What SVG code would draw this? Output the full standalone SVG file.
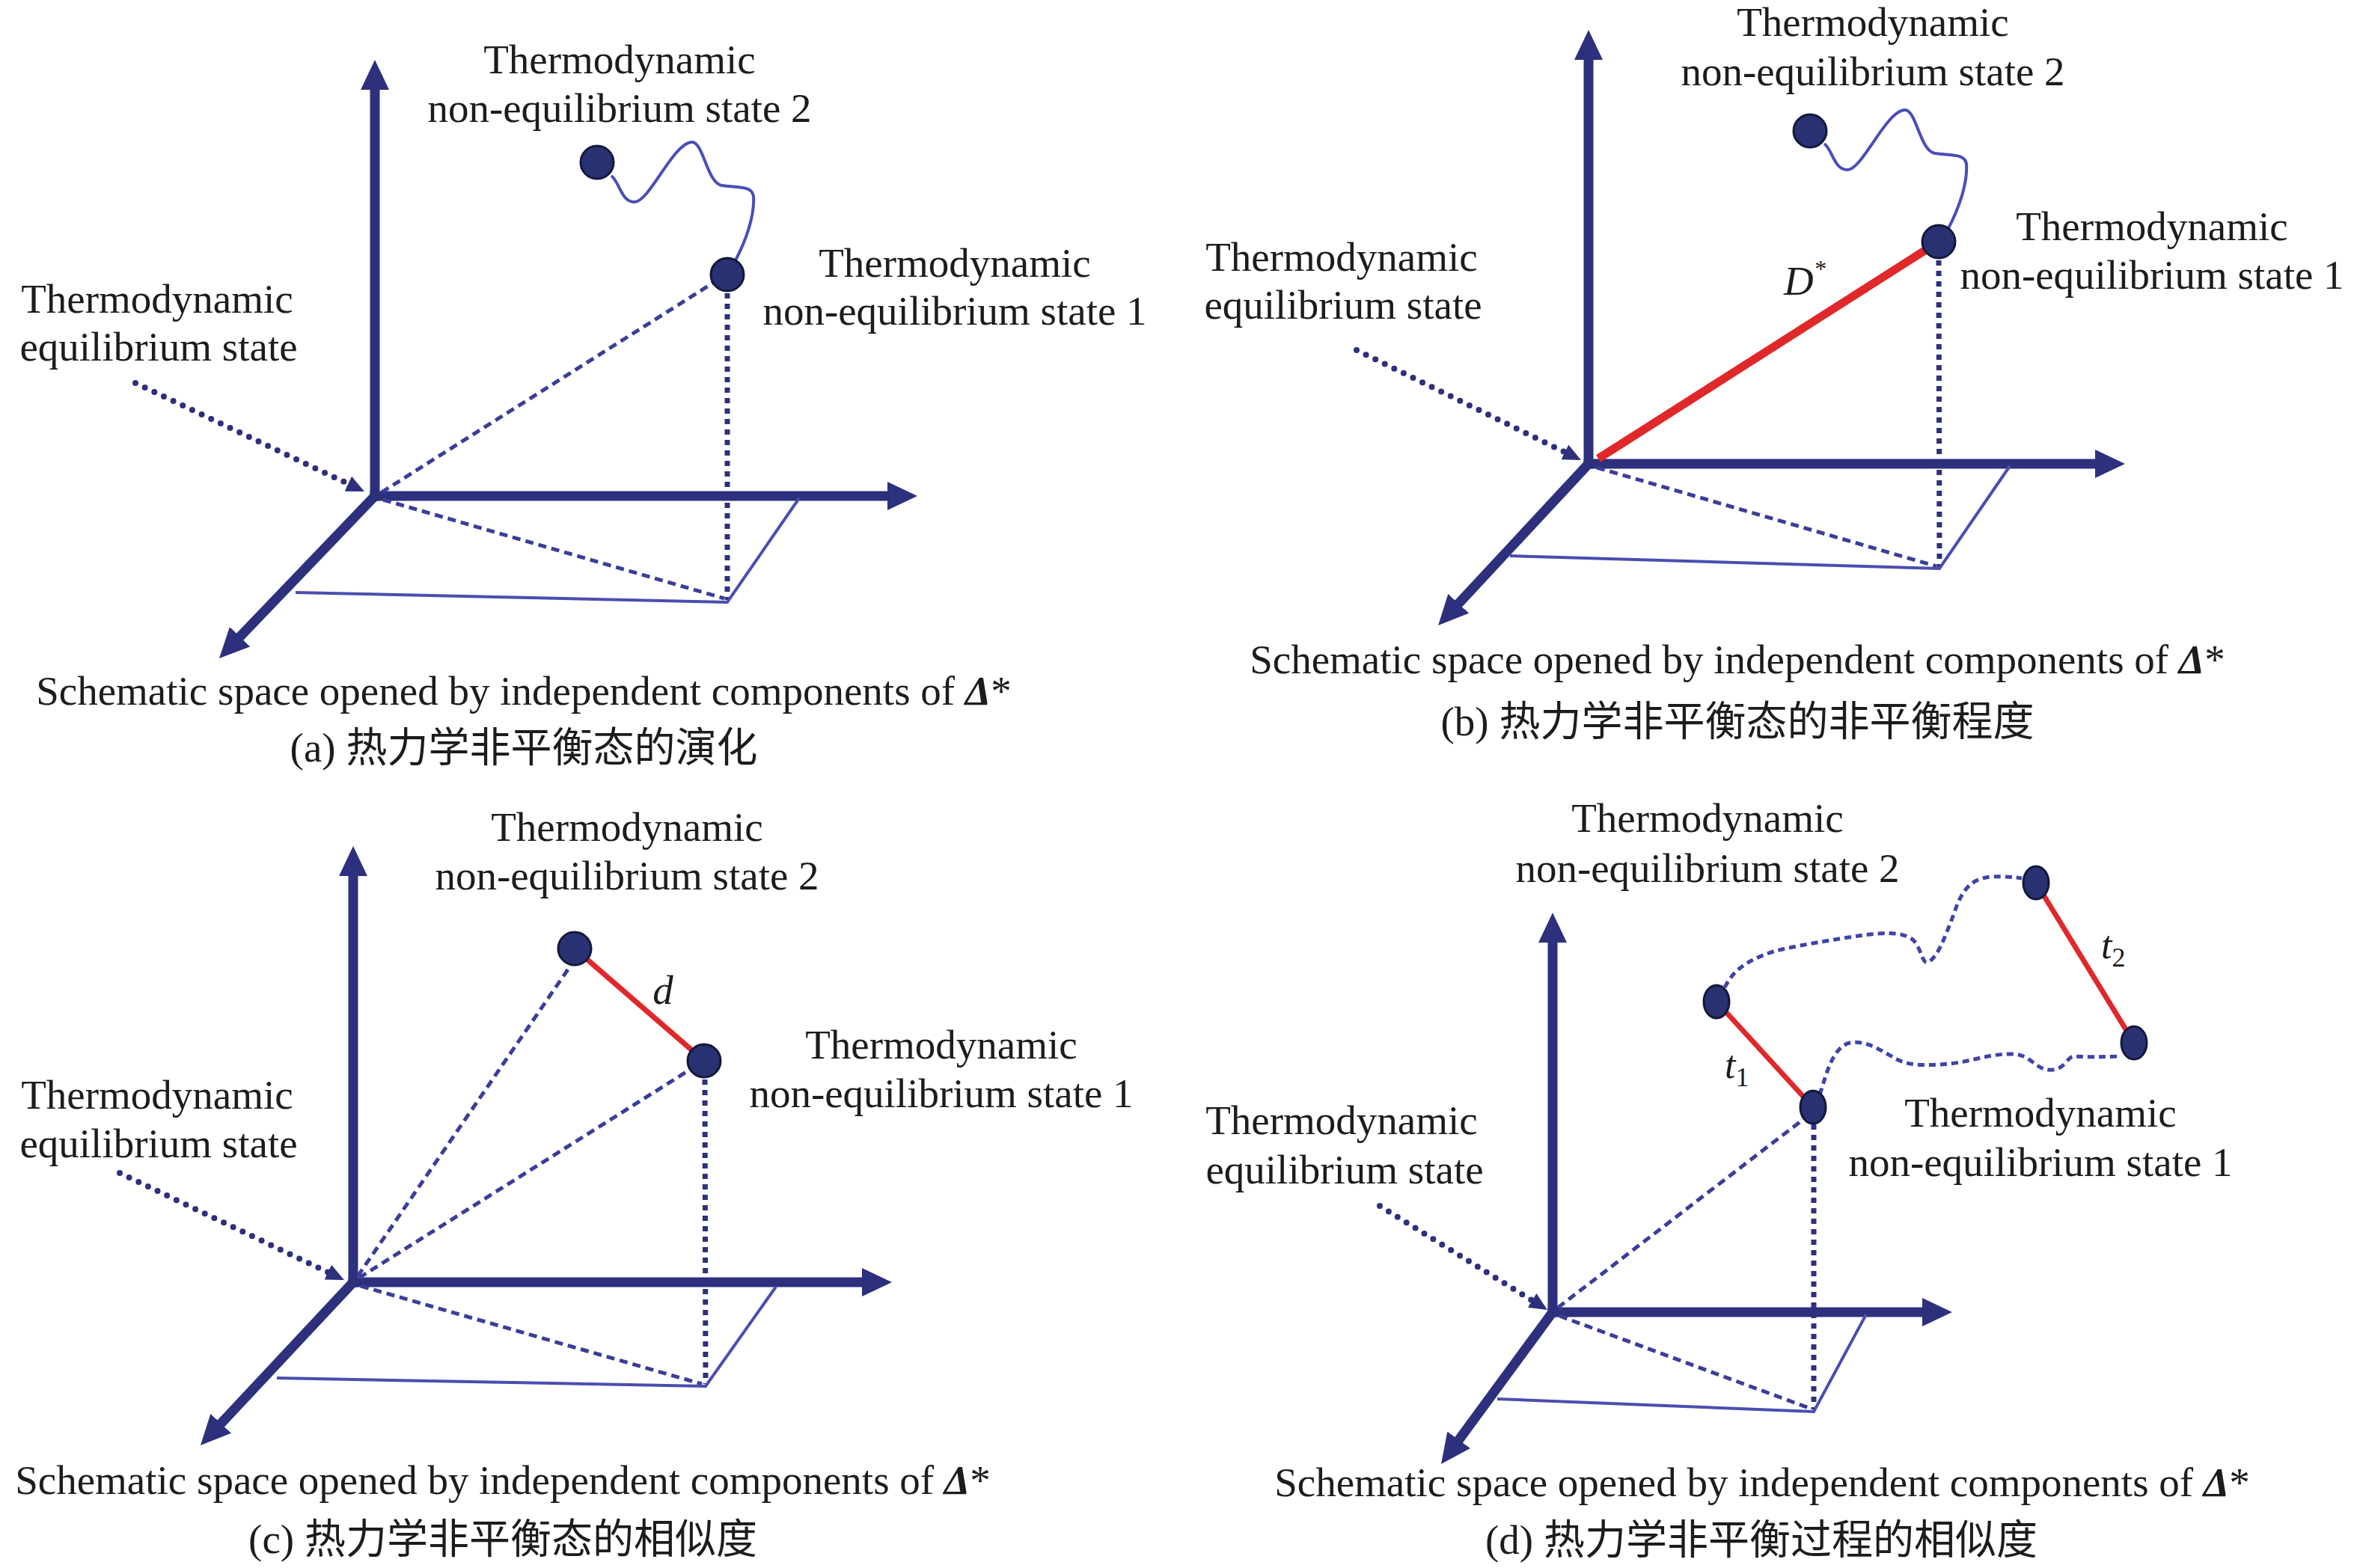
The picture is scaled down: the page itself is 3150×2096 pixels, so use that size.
<svg xmlns="http://www.w3.org/2000/svg" width="3150" height="2096" viewBox="0 0 3150 2096">
<defs>
<style>
.axis{stroke:#2d307c;stroke-width:13;fill:none;marker-end:url(#ah)}
.axs{stroke-linecap:square}
.thin{stroke:#4a4eb0;stroke-width:4;fill:none}
.dash{stroke:#3a3e98;stroke-width:5;stroke-dasharray:11 7;fill:none}
.vdot{stroke:#2d307c;stroke-width:7;stroke-dasharray:7 7;fill:none}
.pdot{stroke:#2d307c;stroke-width:8;stroke-dasharray:0 14;stroke-linecap:round;fill:none;marker-end:url(#sah)}
.wave{stroke:#4a4eb8;stroke-width:4;fill:none}
.dwave{stroke:#3f44a8;stroke-width:5;stroke-dasharray:9 6;fill:none}
.red{stroke:#e0282a;stroke-width:7;fill:none}
.pt{fill:#283272;stroke:#14183a;stroke-width:3}
.t{font-family:"Liberation Serif","Noto Sans CJK SC",serif;font-size:55px;fill:#1c1c1c;text-anchor:middle}
.it{font-family:"Liberation Serif",serif;font-style:italic;fill:#1c1c1c}
</style>
<marker id="ah" markerUnits="userSpaceOnUse" markerWidth="44" markerHeight="40" refX="6" refY="19" orient="auto">
<path d="M0,0 L40,19 L0,38 Z" fill="#2d307c"/>
</marker>
<marker id="sah" markerUnits="userSpaceOnUse" markerWidth="28" markerHeight="26" refX="4" refY="11" orient="auto">
<path d="M0,0 L24,11 L0,22 Z" fill="#2d307c"/>
</marker>
<path id="wv" d="M817,235 C828,243 830,270 848,270 C868,270 900,190 925,190 C940,190 945,245 965,248 C985,251 1005,248 1007,262 C1009,290 995,325 983,348"/>
</defs>
<rect width="3150" height="2096" fill="#ffffff"/>

<!-- ===== Panel (a) ===== -->
<g id="panel-a">
<g id="a-axes">
<line class="axis axs" x1="501" y1="663" x2="501" y2="114"/>
<line class="axis axs" x1="501" y1="663" x2="1192" y2="663"/>
<line class="axis" x1="501" y1="663" x2="316.5" y2="855.5"/>
</g>
<g id="a-connectors">
<line class="dash" x1="510" y1="658" x2="958" y2="375"/>
<line class="dash" x1="512" y1="668" x2="968" y2="800"/>
<line class="vdot" x1="972" y1="392" x2="972" y2="802"/>
<polyline class="thin" points="395,792 972,805 1068,666"/>
<line class="pdot" x1="181" y1="512" x2="468.9" y2="648.4"/>
<use href="#wv" class="wave"/>
</g>
<g id="a-state2">
<circle class="pt" cx="798" cy="217" r="22"/>
<text class="t" x="828" y="98">Thermodynamic</text>
<text class="t" x="828" y="163">non-equilibrium state 2</text>
</g>
<g id="a-state1">
<circle class="pt" cx="972" cy="367" r="22"/>
<text class="t" x="1276" y="370">Thermodynamic</text>
<text class="t" x="1276" y="434">non-equilibrium state 1</text>
</g>
<g id="a-eq">
<text class="t" x="210" y="418">Thermodynamic</text>
<text class="t" x="212" y="482">equilibrium state</text>
</g>
<g id="a-caption">
<text class="t" x="700" y="942">Schematic space opened by independent components of <tspan font-style="italic" font-weight="bold">Δ</tspan>*</text>
<text class="t" x="700" y="1018">(a) 热力学非平衡态的演化</text>
</g>
</g>

<!-- ===== Panel (b) ===== -->
<g id="panel-b">
<g id="b-axes">
<line class="axis axs" x1="2123" y1="620" x2="2123" y2="74"/>
<line class="axis axs" x1="2123" y1="620" x2="2806" y2="620"/>
<line class="axis" x1="2123" y1="620" x2="1945.2" y2="811.2"/>
</g>
<g id="b-connectors">
<line class="dash" x1="2134" y1="625" x2="2588" y2="757"/>
<line class="vdot" x1="2591" y1="348" x2="2592" y2="758"/>
<polyline class="thin" points="2018,743 2592,760 2686,623"/>
<line class="pdot" x1="1813" y1="468" x2="2095" y2="606.2"/>
<use href="#wv" class="wave" transform="translate(1621,-43)"/>
<line class="red" style="stroke-width:11" x1="2136" y1="613" x2="2580" y2="330"/>
<text class="it" x="2384" y="394" font-size="55">D<tspan font-size="32" dy="-24">*</tspan></text>
</g>
<g id="b-state2">
<circle class="pt" cx="2419" cy="175" r="22"/>
<text class="t" x="2503" y="48">Thermodynamic</text>
<text class="t" x="2503" y="114">non-equilibrium state 2</text>
</g>
<g id="b-state1">
<circle class="pt" cx="2591" cy="323" r="22"/>
<text class="t" x="2876" y="321">Thermodynamic</text>
<text class="t" x="2876" y="386">non-equilibrium state 1</text>
</g>
<g id="b-eq">
<text class="t" x="1793" y="362">Thermodynamic</text>
<text class="t" x="1795" y="426">equilibrium state</text>
</g>
<g id="b-caption">
<text class="t" x="2322" y="900">Schematic space opened by independent components of <tspan font-style="italic" font-weight="bold">Δ</tspan>*</text>
<text class="t" x="2322" y="983">(b) 热力学非平衡态的非平衡程度</text>
</g>
</g>

<!-- ===== Panel (c) ===== -->
<g id="panel-c">
<g id="c-axes">
<line class="axis axs" x1="472" y1="1714" x2="472" y2="1165"/>
<line class="axis axs" x1="472" y1="1714" x2="1158" y2="1714"/>
<line class="axis" x1="472" y1="1714" x2="291.2" y2="1907.2"/>
</g>
<g id="c-connectors">
<line class="dash" x1="478" y1="1706" x2="763" y2="1290"/>
<line class="dash" x1="480" y1="1708" x2="925" y2="1428"/>
<line class="dash" x1="482" y1="1719" x2="938" y2="1850"/>
<line class="vdot" x1="942" y1="1443" x2="943" y2="1850"/>
<polyline class="thin" points="370,1842 943,1853 1037,1720"/>
<line class="pdot" x1="160" y1="1568" x2="441.9" y2="1702.4"/>
<line class="red" x1="768" y1="1268" x2="941" y2="1418"/>
<text class="it" x="886" y="1342" font-size="55" text-anchor="middle">d</text>
</g>
<g id="c-state2">
<circle class="pt" cx="768" cy="1268" r="22"/>
<text class="t" x="838" y="1124">Thermodynamic</text>
<text class="t" x="838" y="1189">non-equilibrium state 2</text>
</g>
<g id="c-state1">
<circle class="pt" cx="941" cy="1418" r="22"/>
<text class="t" x="1258" y="1415">Thermodynamic</text>
<text class="t" x="1258" y="1480">non-equilibrium state 1</text>
</g>
<g id="c-eq">
<text class="t" x="210" y="1482">Thermodynamic</text>
<text class="t" x="212" y="1547">equilibrium state</text>
</g>
<g id="c-caption">
<text class="t" x="672" y="1997">Schematic space opened by independent components of <tspan font-style="italic" font-weight="bold">Δ</tspan>*</text>
<text class="t" x="672" y="2076">(c) 热力学非平衡态的相似度</text>
</g>
</g>

<!-- ===== Panel (d) ===== -->
<g id="panel-d">
<g id="d-axes">
<line class="axis axs" x1="2075" y1="1754" x2="2075" y2="1254"/>
<line class="axis axs" x1="2075" y1="1754" x2="2575" y2="1754"/>
<line class="axis" x1="2075" y1="1754" x2="1946.1" y2="1929.6"/>
</g>
<g id="d-connectors">
<line class="dash" x1="2082" y1="1748" x2="2413" y2="1494"/>
<line class="dash" x1="2084" y1="1759" x2="2420" y2="1883"/>
<line class="vdot" x1="2424" y1="1503" x2="2424" y2="1884"/>
<polyline class="thin" points="2001,1870 2424,1887 2494,1757"/>
<line class="pdot" x1="1844" y1="1612" x2="2051" y2="1740.5"/>
<path class="dwave" d="M2305,1320 C2315,1300 2330,1285 2370,1272 C2400,1264 2450,1256 2490,1250 C2515,1247 2540,1245 2555,1255 C2568,1265 2568,1290 2577,1286 C2590,1280 2600,1250 2610,1225 C2620,1195 2630,1175 2660,1172 C2680,1171 2695,1173 2702,1174"/>
<path class="dwave" d="M2432,1463 C2440,1440 2448,1400 2472,1394 C2495,1390 2515,1405 2535,1416 C2555,1426 2580,1424 2605,1422 C2635,1419 2660,1408 2690,1409 C2715,1410 2718,1428 2738,1430 C2760,1432 2762,1412 2772,1412 C2790,1413 2810,1413 2832,1412"/>
<line class="red" x1="2294" y1="1339" x2="2423" y2="1480"/>
<line class="red" x1="2721" y1="1180" x2="2852" y2="1394"/>
<text class="it" x="2305" y="1441" font-size="52">t<tspan font-size="36" dy="11" font-style="normal">1</tspan></text>
<text class="it" x="2808" y="1281" font-size="52">t<tspan font-size="36" dy="11" font-style="normal">2</tspan></text>
</g>
<g id="d-state2a">
<ellipse class="pt" cx="2294" cy="1339" rx="17" ry="22"/>
</g>
<g id="d-state2b">
<ellipse class="pt" cx="2721" cy="1180" rx="17" ry="22"/>
<text class="t" x="2282" y="1112">Thermodynamic</text>
<text class="t" x="2282" y="1179">non-equilibrium state 2</text>
</g>
<g id="d-state1a">
<ellipse class="pt" cx="2423" cy="1480" rx="17" ry="22"/>
<text class="t" x="2727" y="1506">Thermodynamic</text>
<text class="t" x="2727" y="1572">non-equilibrium state 1</text>
</g>
<g id="d-state1b">
<ellipse class="pt" cx="2852" cy="1394" rx="17" ry="22"/>
</g>
<g id="d-eq">
<text class="t" x="1793" y="1516">Thermodynamic</text>
<text class="t" x="1797" y="1582">equilibrium state</text>
</g>
<g id="d-caption">
<text class="t" x="2355" y="2000">Schematic space opened by independent components of <tspan font-style="italic" font-weight="bold">Δ</tspan>*</text>
<text class="t" x="2354" y="2077">(d) 热力学非平衡过程的相似度</text>
</g>
</g>
</svg>
